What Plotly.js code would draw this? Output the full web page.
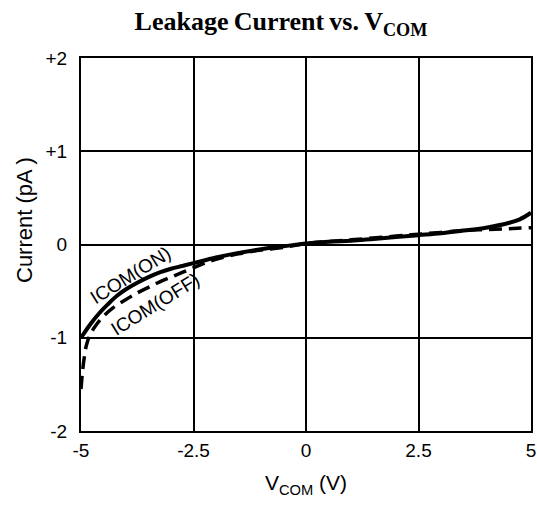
<!DOCTYPE html>
<html><head><meta charset="utf-8">
<script src="https://cdn.plot.ly/plotly-3.0.1.min.js"></script>
<style>body{margin:0;background:#fff}#chart{width:537px;height:507px}</style>
</head><body><div id="chart"></div>
<script>
// ICOM(ON) - solid
const vOn = [-5, -4.8, -4.6, -4.4, -4.2, -4, -3.75, -3.5, -3.25, -3, -2.75, -2.5, -2, -1.5, -1, -0.5, 0, 0.5, 1, 1.5, 2, 2.5, 3, 3.5, 4, 4.5, 4.75, 5];
const iOn = [-1.0, -0.86, -0.74, -0.64, -0.55, -0.48, -0.41, -0.35, -0.30, -0.26, -0.23, -0.20, -0.14, -0.09, -0.05, -0.02, 0.01, 0.03, 0.04, 0.06, 0.08, 0.10, 0.12, 0.15, 0.18, 0.23, 0.27, 0.34];
// ICOM(OFF) - dashed
const vOff = [-5, -4.97, -4.93, -4.88, -4.8, -4.66, -4.5, -4.29, -4, -3.75, -3.5, -3.25, -3, -2.75, -2.5, -2.25, -2, -1.5, -1, -0.5, 0, 1, 2, 2.5, 3, 3.5, 4, 4.5, 5];
const iOff = [-1.55, -1.38, -1.22, -1.08, -0.97, -0.86, -0.77, -0.68, -0.59, -0.52, -0.46, -0.40, -0.35, -0.30, -0.25, -0.20, -0.16, -0.10, -0.06, -0.03, 0.01, 0.05, 0.09, 0.11, 0.13, 0.15, 0.16, 0.17, 0.18];
const xTicks = [-5, -2.5, 0, 2.5, 5];
const xTickText = ['-5', '-2.5', '0', '2.5', '5'];
const yTicks = [-2, -1, 0, 1, 2];
const yTickText = ['-2', '-1', '0', '+1', '+2'];

const traces = [
  {x: vOn, y: iOn, mode: 'lines', line: {color: '#000', width: 4, shape: 'spline', smoothing: 1}, name: 'ICOM(ON)'},
  {x: vOff, y: iOff, mode: 'lines', line: {color: '#000', width: 3.5, dash: '13px,7px', shape: 'spline', smoothing: 1}, name: 'ICOM(OFF)'}
];
const font = {family: 'Liberation Sans, Arial, sans-serif', color: '#000'};
const layout = {
  width: 537, height: 507,
  margin: {l: 81, r: 6, t: 58, b: 76},
  showlegend: false,
  paper_bgcolor: '#fff', plot_bgcolor: '#fff',
  title: {text: '<b>Leakage\u2009Current\u2009vs.\u2009V<sub>COM</sub></b>', x: 281/537, xanchor: 'center', xref: 'container',
          y: 1 - 21/507, yanchor: 'middle', yref: 'container',
          font: {family: 'Liberation Serif, Times New Roman, serif', size: 26, color: '#000'}},
  xaxis: {range: [-5, 5], tickvals: xTicks, ticktext: xTickText, showgrid: true, gridcolor: '#000', gridwidth: 2,
          zeroline: false, showline: true, linecolor: '#000', linewidth: 2, mirror: true, ticks: '', ticklabelstandoff: 1,
          tickfont: Object.assign({size: 19}, font),
          title: {text: 'V<sub>COM</sub> (V)', font: Object.assign({size: 21}, font), standoff: 16}},
  yaxis: {range: [-2, 2], tickvals: yTicks, ticktext: yTickText, showgrid: true, gridcolor: '#000', gridwidth: 2,
          zeroline: false, showline: true, linecolor: '#000', linewidth: 2, mirror: true, ticks: '', ticklabelstandoff: 8,
          tickfont: Object.assign({size: 19}, font)},
  annotations: [
    {x: (25 - 81) / 450, y: (431 - 220) / 373, xref: 'paper', yref: 'paper', text: 'Current (pA )', showarrow: false,
     textangle: -90, xanchor: 'center', yanchor: 'middle', font: Object.assign({size: 22}, font)},
    {x: -3.91, y: -0.33, xref: 'x', yref: 'y', text: 'ICOM(ON)', showarrow: false, textangle: -32,
     font: Object.assign({size: 19}, font)},
    {x: -3.36, y: -0.64, xref: 'x', yref: 'y', text: 'ICOM(OFF)', showarrow: false, textangle: -32,
     font: Object.assign({size: 19}, font)}
  ]
};
Plotly.newPlot('chart', traces, layout, {staticPlot: true, displayModeBar: false});
</script></body></html>
